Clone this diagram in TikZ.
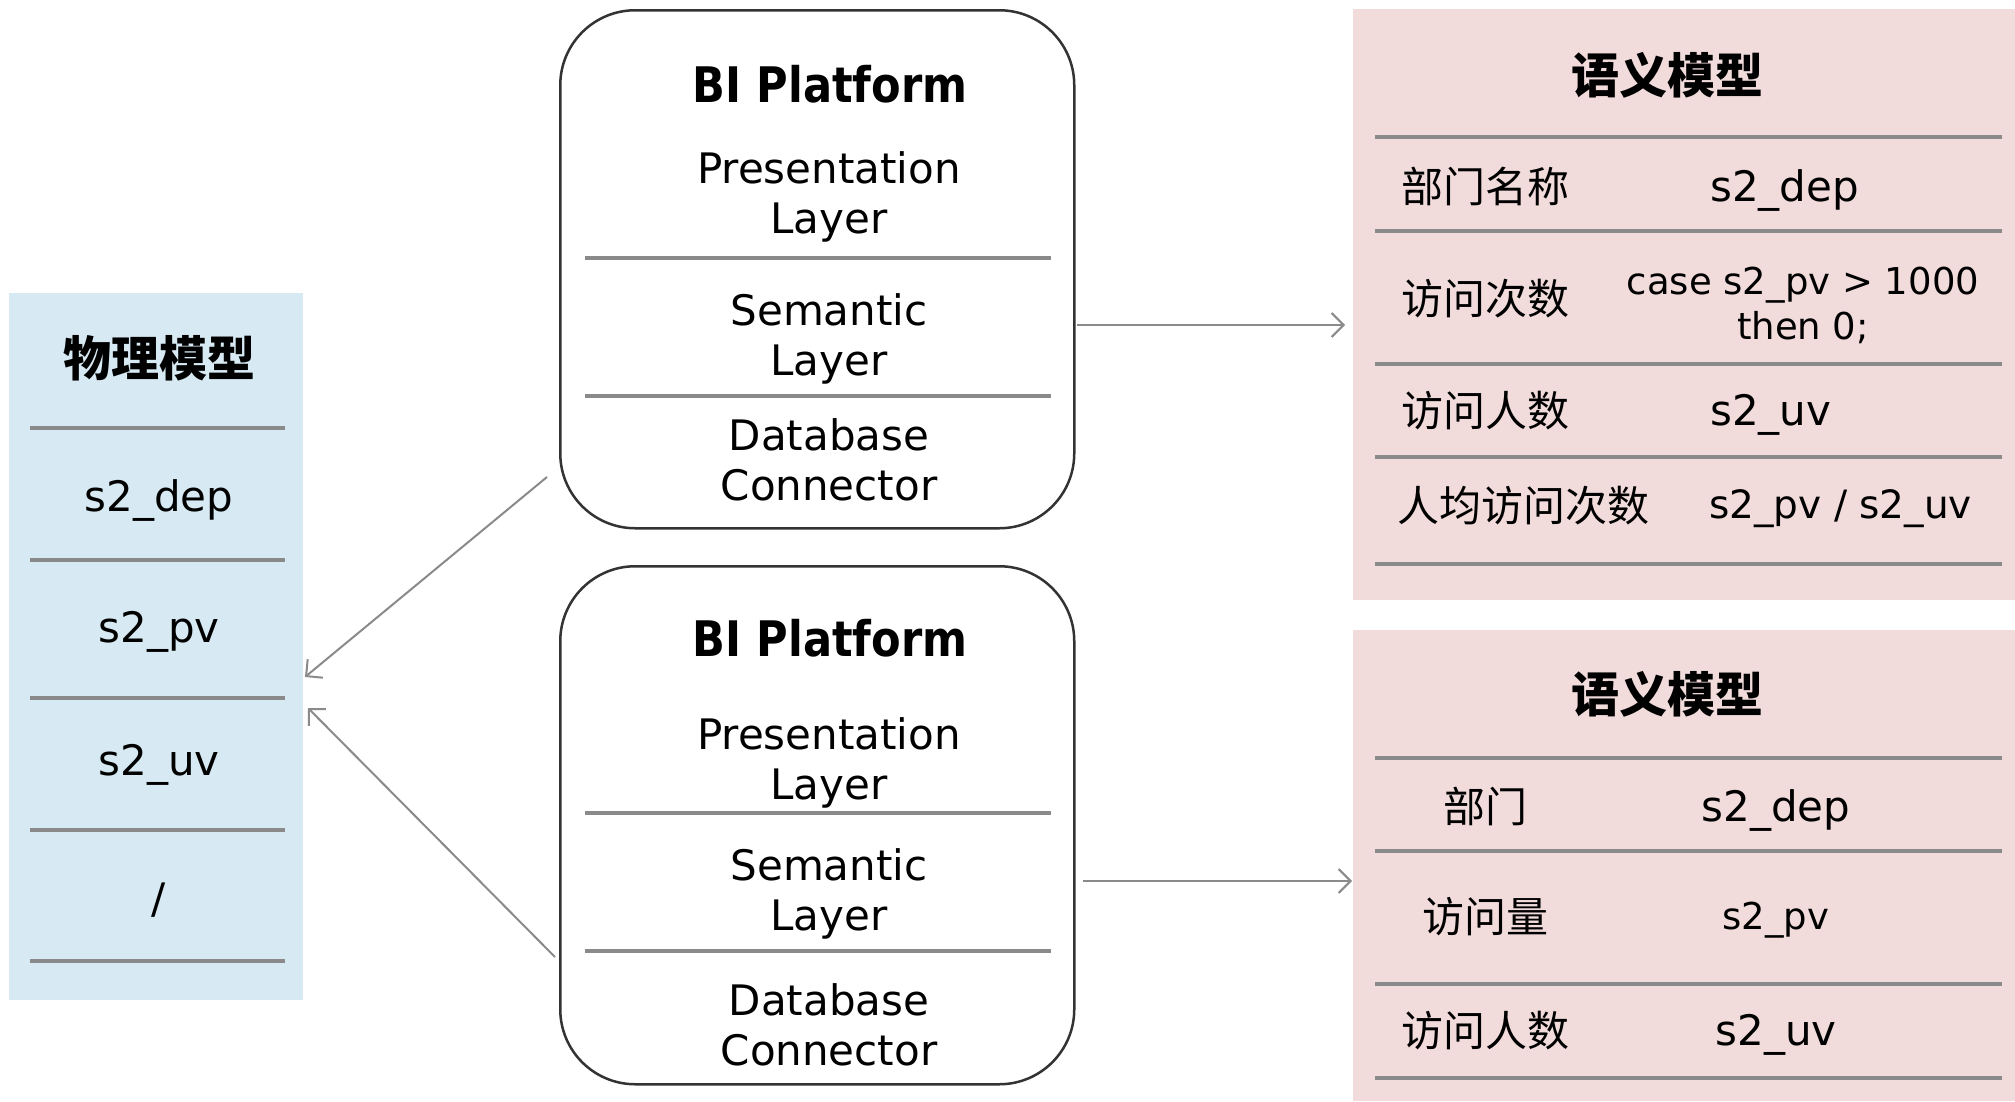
\documentclass[tikz,border=0pt]{standalone}
\usepackage{fontspec}
\setmainfont{DejaVu Sans}
\newfontfamily\titlefont[FakeStretch=0.88]{DejaVu Sans Bold}
\newfontfamily\cjk{Noto Sans CJK SC}
\usetikzlibrary{arrows.meta}
\definecolor{physblue}{HTML}{D7E9F2}
\definecolor{sempink}{HTML}{F1DBDB}
\definecolor{sepgray}{HTML}{8A8A8A}
\definecolor{boxline}{HTML}{333333}
\begin{document}
\begin{tikzpicture}[x=1pt,y=-1pt,
  panel/.style={draw=none,anchor=north west,inner sep=0pt},
  sep/.style={draw=sepgray,line width=4pt},
  bibox/.style={draw=boxline,line width=2.5pt,rounded corners=75pt,anchor=north west,
    minimum width=514pt,minimum height=518pt,inner sep=0pt},
  lbl/.style={font=\fontsize{42}{50}\selectfont,align=center,inner sep=0pt},
  code/.style={font=\fontsize{37}{45}\selectfont,align=center,inner sep=0pt},
  bititle/.style={font=\fontsize{49}{56}\selectfont\titlefont,inner sep=0pt},
  cjklbl/.style={font=\fontsize{42}{50}\selectfont\cjk,inner sep=0pt},
  cjktitle/.style={font=\fontsize{48}{56}\selectfont\cjk\bfseries,inner sep=0pt},
  arr/.style={draw=sepgray,line width=2pt,-{Straight Barb[length=12pt,width=24pt,line width=2pt]}}
]
\useasboundingbox (0,0) rectangle (2015,1101);

% ---------- physical model panel ----------
\node[panel,fill=physblue,minimum width=294pt,minimum height=707pt] (phys) at (9,293) {};
\node[cjktitle] (physt) at (159,358) {物理模型};
\foreach \yy in {428,560,698,830,961} \draw[sep] (30,\yy) -- (285,\yy);
\node[lbl] (p1) at (159,500) {s2\_dep};
\node[lbl] (p2) at (159,632) {s2\_pv};
\node[lbl] (p3) at (159,765) {s2\_uv};
\node[lbl] (p4) at (159,900) {/};

% ---------- BI platform boxes ----------
\node[bibox] (bi1) at (559,9) {};
\node[bititle] (bi1t) at (830,84) {BI Platform};
\node[lbl] (bi1a) at (829,197) {Presentation\\Layer};
\draw[sep] (585,258) -- (1051,258);
\node[lbl] (bi1b) at (829,339) {Semantic\\Layer};
\draw[sep] (585,396) -- (1051,396);
\node[lbl] (bi1c) at (829,460) {Database\\Connector};

\node[bibox] (bi2) at (559,565) {};
\node[bititle] (bi2t) at (830,638) {BI Platform};
\node[lbl] (bi2a) at (829,763) {Presentation\\Layer};
\draw[sep] (585,813) -- (1051,813);
\node[lbl] (bi2b) at (829,894) {Semantic\\Layer};
\draw[sep] (585,951) -- (1051,951);
\node[lbl] (bi2c) at (829,1025) {Database\\Connector};

% ---------- semantic model 1 ----------
\node[panel,fill=sempink,minimum width=662pt,minimum height=591pt] (sem1) at (1353,9) {};
\node[cjktitle] (sem1t) at (1667,75) {语义模型};
\foreach \yy in {137,231,364,457,564} \draw[sep] (1375,\yy) -- (2002,\yy);
\node[cjklbl,anchor=west] (s1a) at (1401,186) {部门名称};
\node[lbl,anchor=west] (s1av) at (1710,190) {s2\_dep};
\node[cjklbl,anchor=west] (s1b) at (1401,299) {访问次数};
\node[code] (s1bv) at (1803,305) {case s2\_pv > 1000\\then 0;};
\node[cjklbl,anchor=west] (s1c) at (1401,411) {访问人数};
\node[lbl,anchor=west] (s1cv) at (1710,415) {s2\_uv};
\node[cjklbl,anchor=west] (s1d) at (1397,506) {人均访问次数};
\node[code,anchor=west,font=\fontsize{39}{45}\selectfont] (s1dv) at (1709,509) {s2\_pv / s2\_uv};

% ---------- semantic model 2 ----------
\node[panel,fill=sempink,minimum width=662pt,minimum height=471pt] (sem2) at (1353,630) {};
\node[cjktitle] (sem2t) at (1667,694) {语义模型};
\foreach \yy in {758,851,984,1078} \draw[sep] (1375,\yy) -- (2002,\yy);
\node[cjklbl] (s2a) at (1485,806) {部门};
\node[lbl] (s2av) at (1776,810) {s2\_dep};
\node[cjklbl] (s2b) at (1485,917) {访问量};
\node[code] (s2bv) at (1776,920) {s2\_pv};
\node[cjklbl] (s2c) at (1485,1031) {访问人数};
\node[lbl] (s2cv) at (1776,1035) {s2\_uv};

% ---------- connectors ----------
\coordinate (r1s) at (1077,325);
\coordinate (r1e) at (1345,325);
\coordinate (r2s) at (1083,881);
\coordinate (r2e) at (1352,881);
\coordinate (l1s) at (547,477);
\coordinate (l1e) at (305,677);
\coordinate (l2s) at (555,957);
\coordinate (l2e) at (308,708);
\draw[arr] (r1s) -- (r1e);
\draw[arr] (r2s) -- (r2e);
\draw[arr] (l1s) -- (l1e);
\draw[arr] (l2s) -- (l2e);
\end{tikzpicture}
\end{document}
